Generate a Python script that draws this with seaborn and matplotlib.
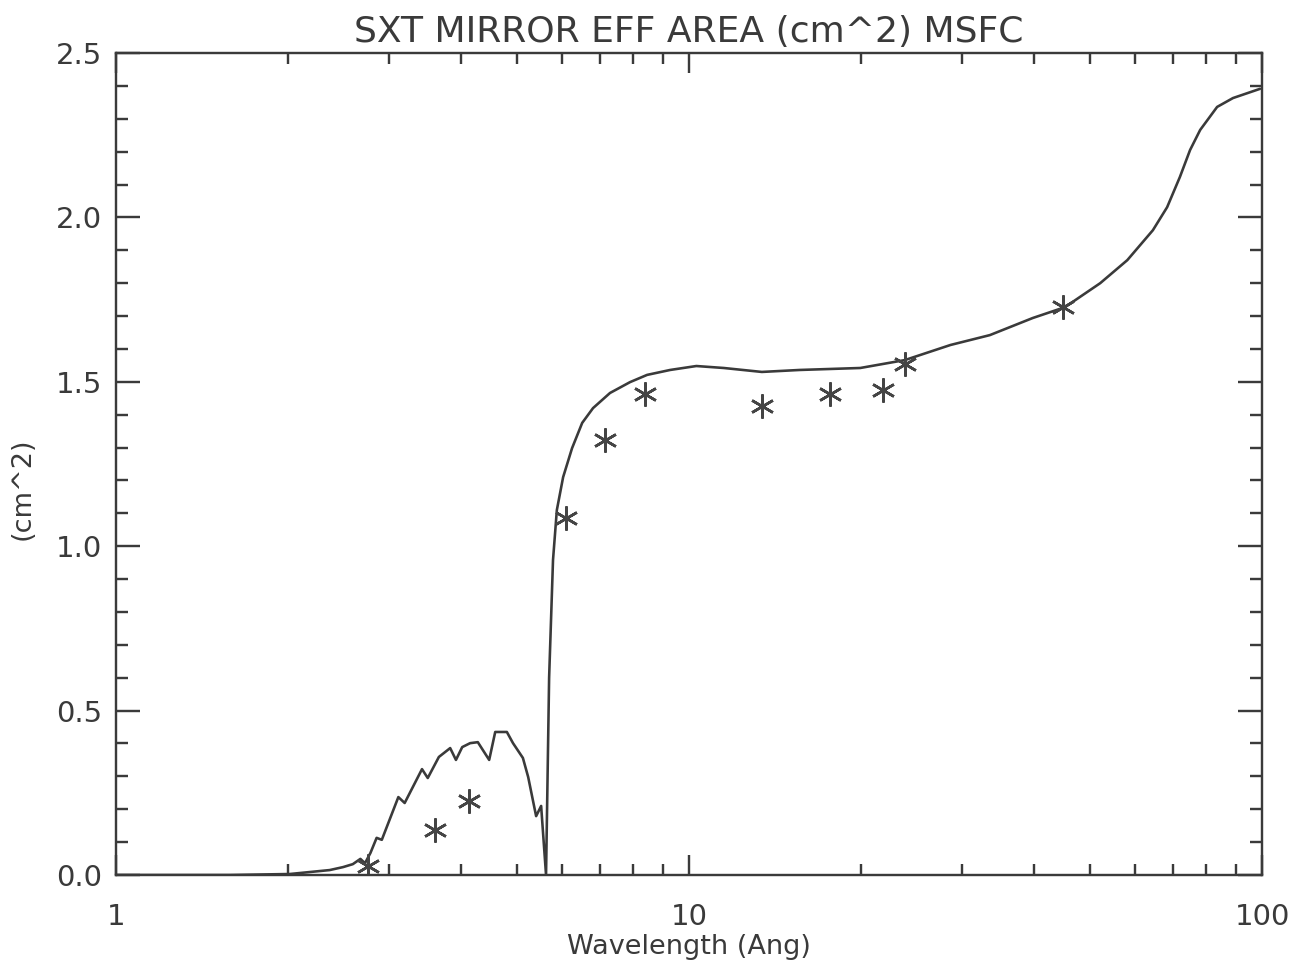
import numpy as np
import pandas as pd
import matplotlib
matplotlib.use("Agg")
import matplotlib.pyplot as plt
from matplotlib.ticker import MultipleLocator, LogLocator, NullFormatter, FixedFormatter, FixedLocator
import seaborn as sns

# effective area curve
curve_wave = [1.0, 1.58, 2.01, 2.36, 2.49, 2.59, 2.67, 2.72, 2.78, 2.85, 2.91,
              3.11, 3.19, 3.42, 3.50, 3.66, 3.83, 3.92, 4.02, 4.15, 4.28, 4.48,
              4.59, 4.81, 4.93, 5.13, 5.24, 5.41, 5.52, 5.63, 5.70, 5.79, 5.88,
              6.03, 6.25, 6.51, 6.80, 7.28, 7.89, 8.45, 9.27, 10.3, 11.5, 13.4,
              15.6, 19.9, 23.8, 28.6, 33.5, 39.8, 45.3, 52.2, 58.2, 64.5, 68.3,
              71.9, 74.9, 78.0, 83.5, 89.0, 99.2]
curve_area = [0.0, 0.0, 0.003, 0.015, 0.024, 0.033, 0.049, 0.036, 0.067, 0.113, 0.107,
              0.237, 0.219, 0.322, 0.295, 0.359, 0.386, 0.350, 0.389, 0.401, 0.404, 0.350,
              0.435, 0.435, 0.401, 0.356, 0.298, 0.179, 0.210, 0.0, 0.60, 0.958, 1.110,
              1.210, 1.298, 1.375, 1.420, 1.466, 1.499, 1.521, 1.536, 1.548, 1.542, 1.530,
              1.536, 1.542, 1.566, 1.612, 1.642, 1.694, 1.727, 1.800, 1.870, 1.961, 2.031,
              2.123, 2.205, 2.266, 2.336, 2.363, 2.391]

# measured points (asterisks)
meas_wave = [2.75, 3.60, 4.13, 6.10, 7.13, 8.38, 13.4, 17.6, 21.8, 23.8, 44.9]
meas_area = [0.027, 0.137, 0.225, 1.086, 1.323, 1.463, 1.426, 1.463, 1.475, 1.554, 1.727]

x_ticks = [1, 10, 100]
x_labels = ["1", "10", "100"]

sns.set_style("ticks")
plt.rcParams['font.family'] = ['DejaVu Sans']

ink = "#3a3a3a"
px = 72 / 100  # points per pixel

fig = plt.figure(figsize=(13.05, 9.6), dpi=100)
ax = fig.add_axes([116 / 1305, 85 / 960, 1146 / 1305, 822 / 960])

curve = pd.DataFrame({"wave": curve_wave, "area": curve_area})
meas = pd.DataFrame({"wave": meas_wave, "area": meas_area})

sns.lineplot(data=curve, x="wave", y="area", sort=False, estimator=None,
             color=ink, linewidth=2.6 * px, ax=ax)
ax.plot(meas["wave"], meas["area"], linestyle="none", marker=(6, 2, 0),
        markersize=24 * px, markeredgewidth=2.6 * px, color="#444444")

ax.set_xscale("log")
ax.set_xlim(1, 100)
ax.set_ylim(0, 2.5)

ax.xaxis.set_major_locator(FixedLocator(x_ticks))
ax.xaxis.set_major_formatter(FixedFormatter(x_labels))
ax.xaxis.set_minor_locator(LogLocator(base=10, subs=np.arange(2, 10)))
ax.xaxis.set_minor_formatter(NullFormatter())
ax.yaxis.set_major_locator(MultipleLocator(0.5))
ax.yaxis.set_minor_locator(MultipleLocator(0.1))
ax.yaxis.set_major_formatter(plt.FuncFormatter(lambda v, p: f"{v:.1f}"))

ax.tick_params(axis="both", which="both", direction="in", top=True, right=True,
               color=ink, width=2.4 * px)
ax.tick_params(axis="x", which="major", length=20 * px, pad=20, labelsize=21, labelcolor=ink)
ax.tick_params(axis="x", which="minor", length=11 * px)
ax.tick_params(axis="y", which="major", length=24 * px, pad=10, labelsize=21, labelcolor=ink)
ax.tick_params(axis="y", which="minor", length=12 * px)

for s in ax.spines.values():
    s.set_color(ink)
    s.set_linewidth(2.4 * px)

ax.set_xlabel("Wavelength (Ang)", fontsize=19.5, color=ink, labelpad=2)
ax.set_ylabel("(cm^2)", fontsize=19.5, color=ink)
ax.yaxis.set_label_coords(-80 / 1146, 0.47)
ax.set_title("SXT MIRROR EFF AREA (cm^2) MSFC", fontsize=26, color=ink, pad=8)

fig.savefig("out.png", dpi=100, facecolor="white")
